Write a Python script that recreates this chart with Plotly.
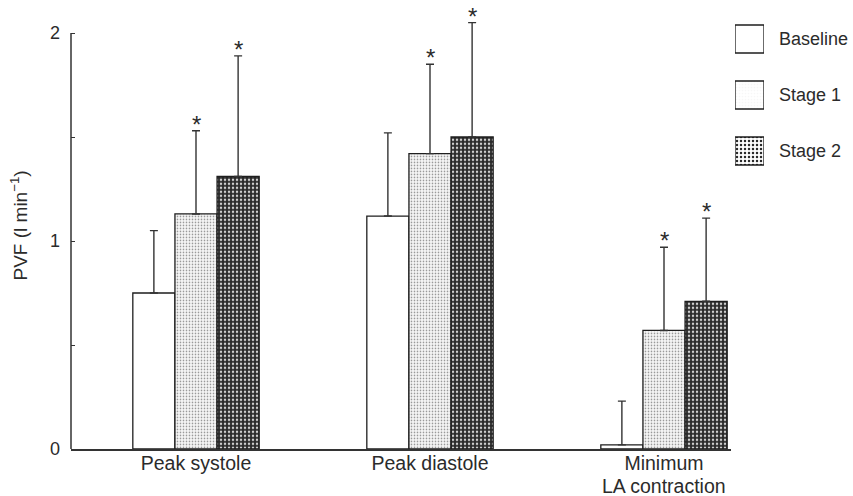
import plotly.graph_objects as go

categories = ["Peak systole", "Peak diastole", "Minimum<br>LA contraction"]
series_names = ["Baseline", "Stage 1", "Stage 2"]
baseline_mean = [0.75, 1.12, 0.02]
baseline_sd = [0.30, 0.40, 0.21]
stage1_mean = [1.13, 1.42, 0.57]
stage1_sd = [0.40, 0.43, 0.40]
stage2_mean = [1.31, 1.50, 0.71]
stage2_sd = [0.58, 0.55, 0.40]
significant = [[False, False, False], [True, True, True], [True, True, True]]
y_tickvals = [0, 1, 2]
y_ticktext = ["0", "1", "2"]
y_minor_step = 0.5

means = [baseline_mean, stage1_mean, stage2_mean]
sds = [baseline_sd, stage1_sd, stage2_sd]

W, H = 853, 496
FONT = "Liberation Sans, Arial, Helvetica, sans-serif"
TXT = "#2b2b2b"

styles = [
    dict(shape="", bgcolor="#ffffff", fgcolor="#ffffff", size=4, solidity=0.3),
    dict(shape=".", bgcolor="#f7f7f7", fgcolor="#8a8a8a", size=3, solidity=0.25),
    dict(shape=".", bgcolor="#2a2a2a", fgcolor="#cfcfcf", size=4, solidity=0.3),
]

bargap = 0.46
xs = list(range(len(categories)))
first_lines = [c.split("<br>")[0] for c in categories]
second_lines = [c.split("<br>")[1] if "<br>" in c else "" for c in categories]

fig = go.Figure()
for i, name in enumerate(series_names):
    fig.add_trace(go.Bar(
        x=xs, y=means[i], name=name, showlegend=False,
        marker=dict(color=styles[i]["bgcolor"], line=dict(color="#1e1e1e", width=1.3),
                    pattern=dict(shape=styles[i]["shape"], bgcolor=styles[i]["bgcolor"],
                                 fgcolor=styles[i]["fgcolor"], size=styles[i]["size"],
                                 solidity=styles[i]["solidity"], fillmode="replace")),
        error_y=dict(type="data", symmetric=False, array=sds[i], arrayminus=[0] * len(xs),
                     color="#333333", thickness=1.4, width=4),
    ))

# asterisks
w = (1 - bargap) / 3
for i in range(len(series_names)):
    for j in xs:
        if significant[i][j]:
            fig.add_annotation(x=j + (i - 1) * w, y=means[i][j] + sds[i][j], xref="x", yref="y",
                               text="*", showarrow=False, yanchor="bottom", yshift=-9,
                               font=dict(family=FONT, size=24, color=TXT))

# second line of category labels (tighter line spacing than plotly's default)
for j in xs:
    if second_lines[j]:
        fig.add_annotation(x=j, y=1 - 486 / H, xref="x", yref="paper", text=second_lines[j],
                           showarrow=False, yanchor="middle",
                           font=dict(family=FONT, size=19.5, color=TXT))

# legend boxes drawn on a small auxiliary axis
fig.add_trace(go.Bar(
    x=[1, 1, 1], y=[0, 1, 2], orientation="h", width=0.5, showlegend=False,
    xaxis="x2", yaxis="y2", hoverinfo="skip",
    marker=dict(color=[s["bgcolor"] for s in styles], line=dict(color="#1e1e1e", width=1.3),
                pattern=dict(shape=[s["shape"] for s in styles], bgcolor=[s["bgcolor"] for s in styles],
                             fgcolor=[s["fgcolor"] for s in styles], size=[s["size"] for s in styles],
                             solidity=[s["solidity"] for s in styles], fillmode="replace")),
))
for k, name in enumerate(series_names):
    fig.add_annotation(x=777 / W, y=k, xref="paper", yref="y2", text=name, showarrow=False,
                       xanchor="left", yanchor="middle", font=dict(family=FONT, size=18, color=TXT))

ymax = 2.15
px_per_unit = 208
y_bottom_px = 449
y_top_px = y_bottom_px - ymax * px_per_unit

fig.add_shape(type="line", xref="x domain", yref="y", x0=0, x1=0, y0=0, y1=2,
              line=dict(color="#333333", width=1.5))

fig.update_layout(
    width=W, height=H, margin=dict(l=0, r=0, t=0, b=0),
    paper_bgcolor="white", plot_bgcolor="white",
    barmode="group", bargap=bargap, bargroupgap=0,
    font=dict(family=FONT, color=TXT),
    xaxis=dict(domain=[71 / W, 731 / W], range=[(71 - 196) / 234, (731 - 196) / 234], automargin=False,
               tickvals=xs, ticktext=first_lines, showline=True, linecolor="#333333", linewidth=1.5,
               showgrid=False, zeroline=False, ticks="", tickfont=dict(size=19.5, color=TXT),
               ticklabelstandoff=-4),
    yaxis=dict(domain=[1 - y_bottom_px / H, 1 - y_top_px / H], range=[0, ymax], automargin=False,
               tickvals=y_tickvals, ticktext=y_ticktext, ticks="inside", ticklen=4,
               tickcolor="#333333", tickwidth=1.2, showline=False, showgrid=False, zeroline=False,
               minor=dict(ticks="inside", ticklen=4, tickcolor="#333333", tickwidth=1.2,
                          tick0=0, dtick=y_minor_step, showgrid=False),
               tickfont=dict(size=18, color=TXT), ticklabelstandoff=10,
               title=dict(text="PVF (l min<sup>−1</sup>)", standoff=17, font=dict(size=19, color=TXT))),
    xaxis2=dict(domain=[735 / W, 764 / W], range=[0, 1], visible=False, fixedrange=True, automargin=False),
    yaxis2=dict(domain=[1 - 179 / H, 1 - 11 / H], range=[2.5, -0.5], visible=False, fixedrange=True,
                automargin=False),
)

fig.write_html("out.html", config={"displayModeBar": False},
               post_script="document.body.style.margin='0';document.body.style.overflow='hidden';")
